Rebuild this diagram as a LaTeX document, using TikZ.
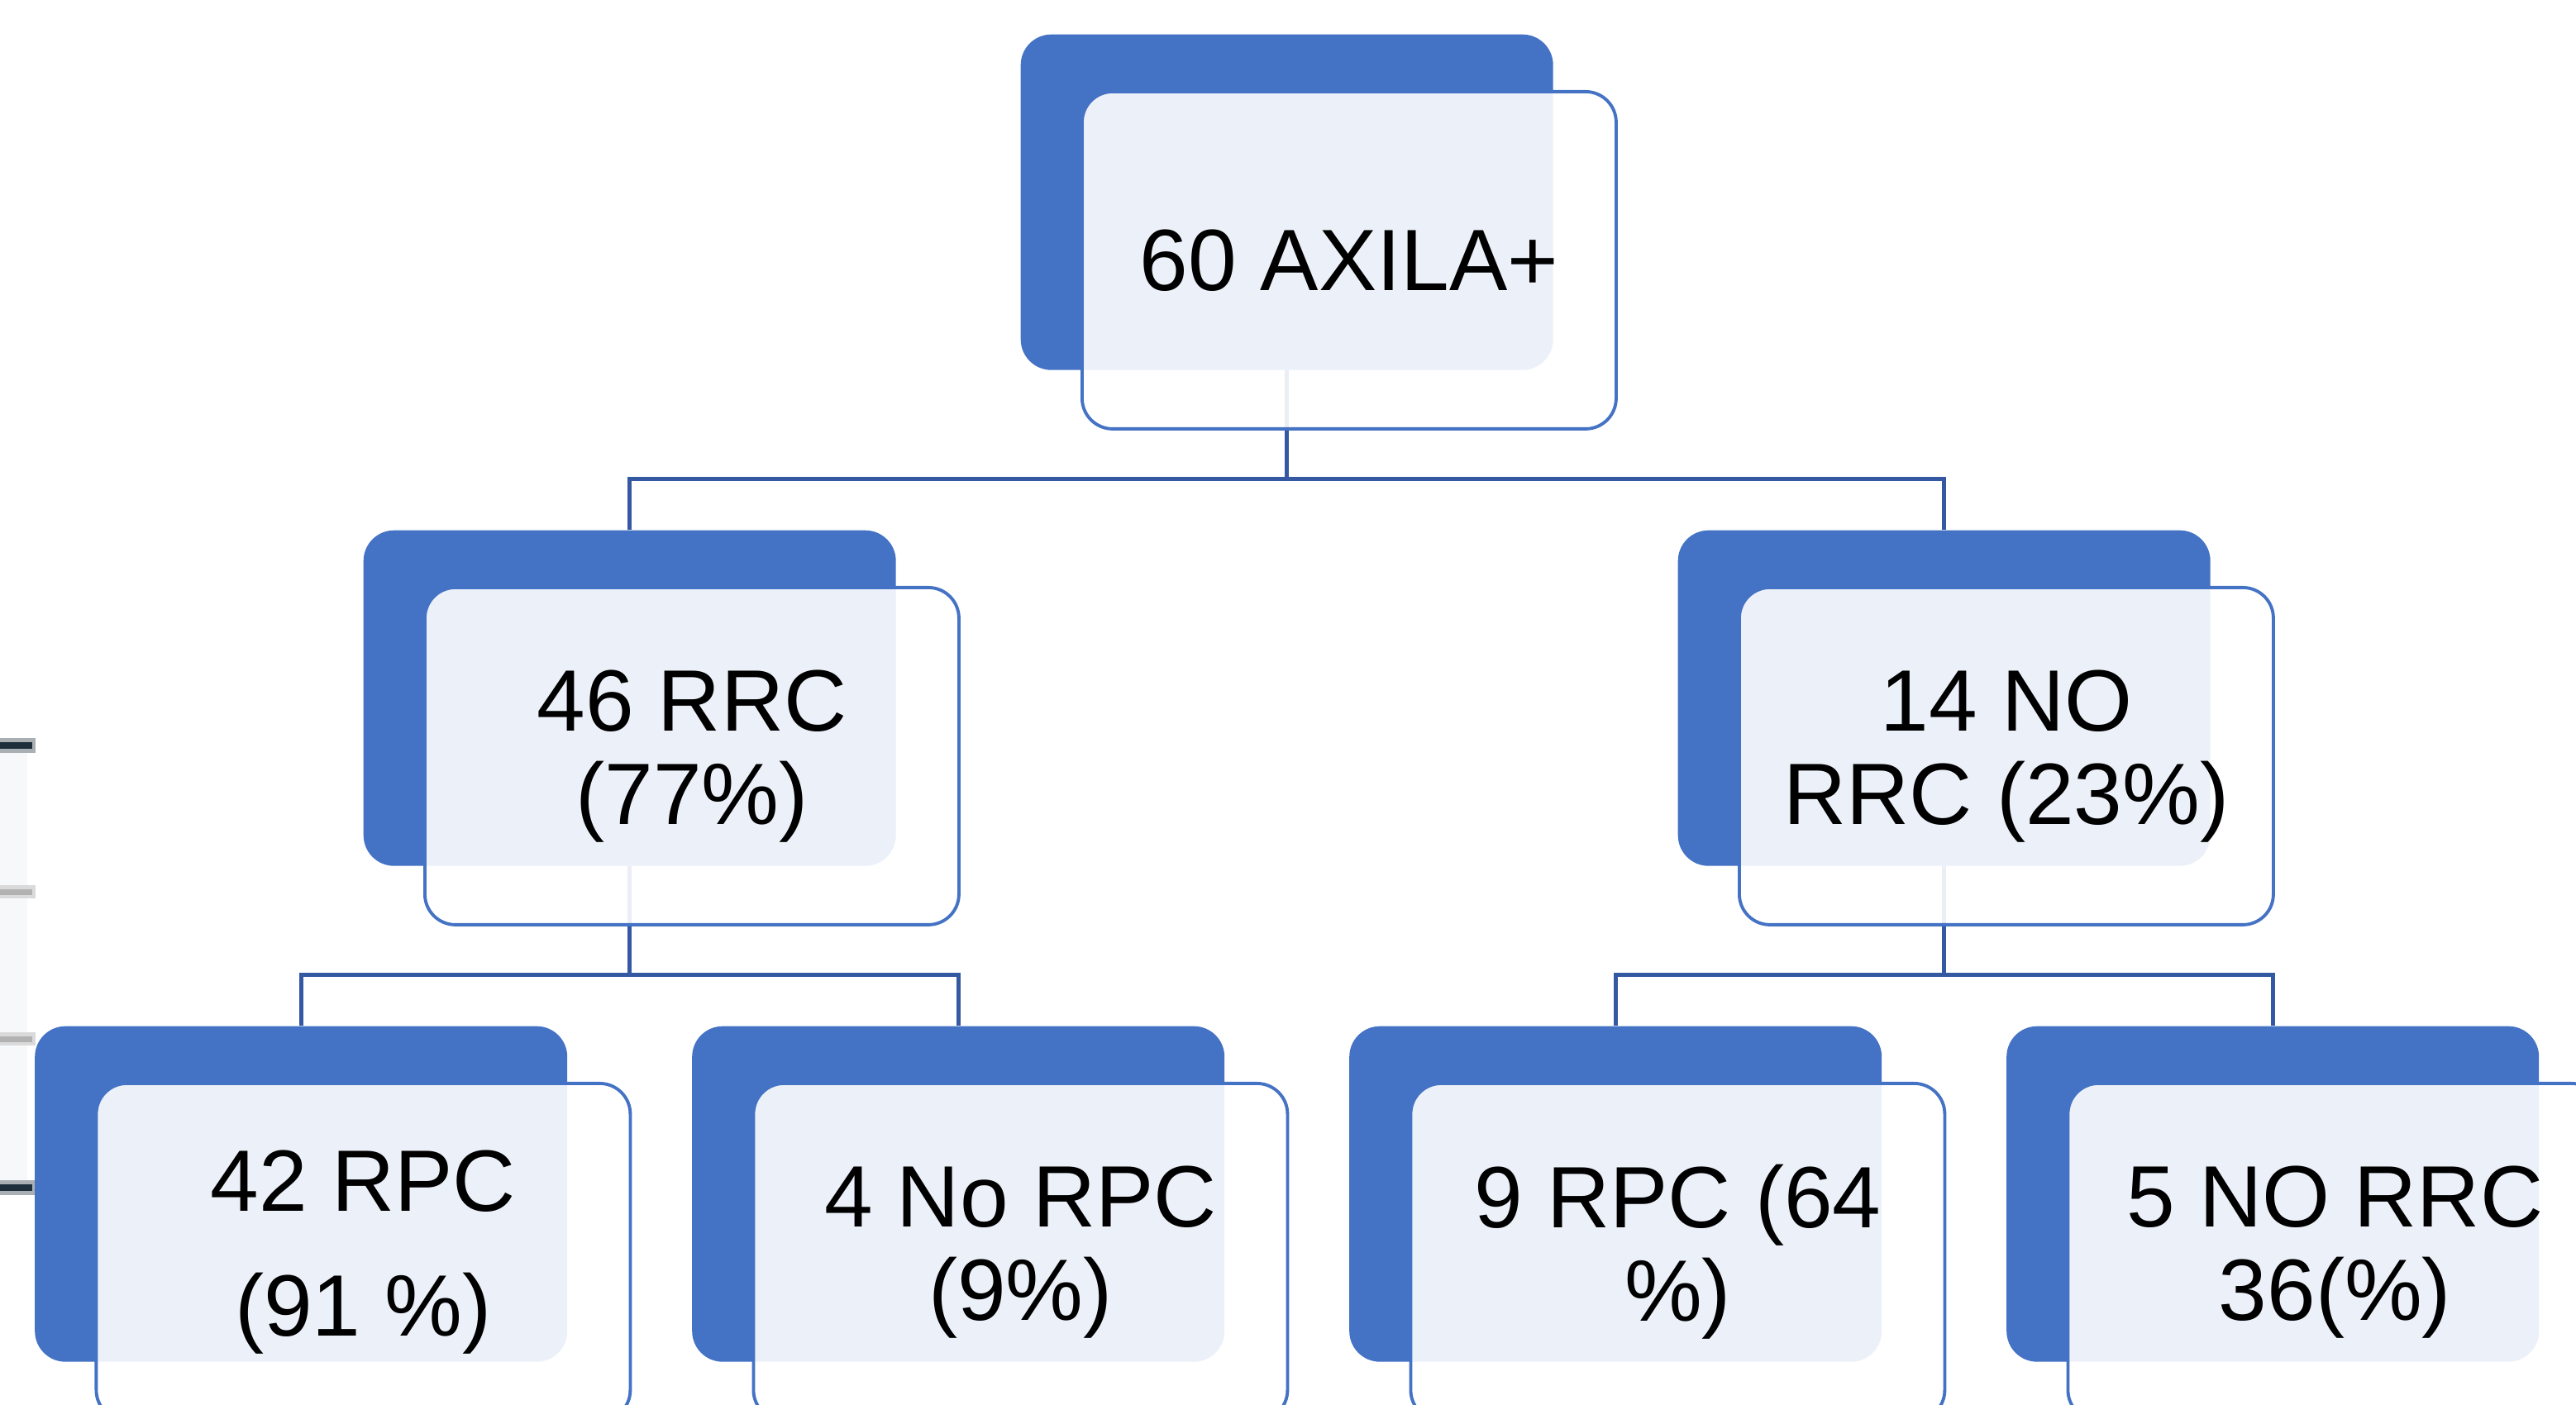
\documentclass[tikz,border=0pt]{standalone}
\usepackage{fontspec}
\setmainfont{Liberation Sans}
\usepackage{xcolor}
\usepackage{tikz}
\usetikzlibrary{positioning}
\definecolor{boxblue}{RGB}{68,114,196}
\definecolor{linkblue}{RGB}{52,88,162}
\definecolor{bardark}{RGB}{30,46,59}
\definecolor{barhalo}{RGB}{170,175,180}
\definecolor{bargray}{RGB}{178,178,178}
\definecolor{barlight}{RGB}{218,218,218}
\definecolor{panel}{RGB}{247,248,250}
\begin{document}
\begin{tikzpicture}[
backbox/.style={fill=boxblue,rounded corners=0.37cm,minimum width=6.44cm,minimum height=4.06cm,inner sep=0pt,anchor=north west},
frontbox/.style={draw=boxblue,line width=1.1pt,fill=white,fill opacity=0.9,text opacity=1,rounded corners=0.37cm,minimum width=6.46cm,minimum height=4.08cm,inner sep=0pt,align=center,font=\fontsize{30}{32}\selectfont,below right=0.68cm and 0.73cm of #1.north west},
link/.style={draw=linkblue,line width=1.4pt}]
\useasboundingbox(0,0)rectangle(31.16,17);
\fill[panel](0,2.63)rectangle(0.33,7.98);
\fill[barhalo](0,7.89)rectangle(0.43,8.07);
\fill[bardark](0,7.94)rectangle(0.39,8.02);
\fill[barlight](0,6.13)rectangle(0.43,6.29);
\fill[bargray](0,6.17)rectangle(0.39,6.24);
\fill[barlight](0,4.35)rectangle(0.43,4.51);
\fill[bargray](0,4.39)rectangle(0.39,4.46);
\fill[barhalo](0,2.54)rectangle(0.43,2.72);
\fill[bardark](0,2.59)rectangle(0.39,2.67);
\node[backbox](axila)at(12.34,16.59){};
\node[backbox](rrc)at(4.39,10.59){};
\node[backbox](norrc)at(20.29,10.59){};
\node[backbox](rpc)at(0.415,4.59){};
\node[backbox](norpc)at(8.365,4.59){};
\node[backbox](rpcb)at(16.315,4.59){};
\node[backbox](norrcb)at(24.265,4.59){};
\draw[link](axila.south)--++(0,-1.31)-|(rrc.north);
\draw[link](axila.south)--++(0,-1.31)-|(norrc.north);
\draw[link](rrc.south)--++(0,-1.31)-|(rpc.north);
\draw[link](rrc.south)--++(0,-1.31)-|(norpc.north);
\draw[link](norrc.south)--++(0,-1.31)-|(rpcb.north);
\draw[link](norrc.south)--++(0,-1.31)-|(norrcb.north);
\node[frontbox=axila](taxila){60 AXILA+};
\node[frontbox=rrc](trrc){46 RRC\\(77\%)};
\node[frontbox=norrc](tnorrc){14 NO\\RRC (23\%)};
\node[frontbox=rpc](trpc){42 RPC\\[11pt](91 \%)};
\node[frontbox=norpc](tnorpc){4 No RPC\\(9\%)};
\node[frontbox=rpcb](trpcb){9 RPC (64\\\%)};
\node[frontbox=norrcb](tnorrcb){5 NO RRC\\36(\%)};
\end{tikzpicture}
\end{document}
